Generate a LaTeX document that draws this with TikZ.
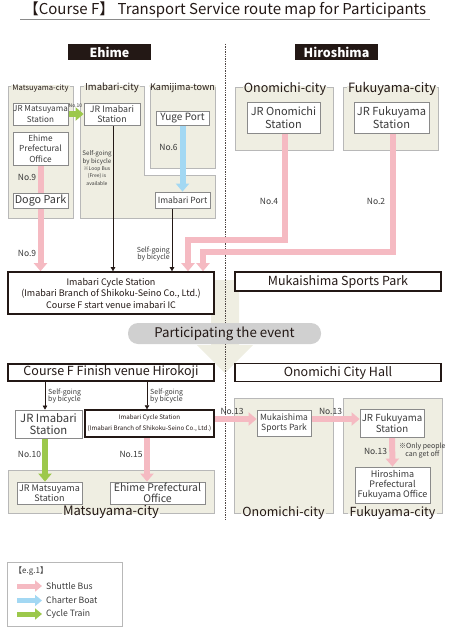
\documentclass[tikz,border=0pt]{standalone}
\usepackage{fontspec}
\setmainfont{Noto Sans CJK JP}
\usetikzlibrary{arrows.meta,calc}
\definecolor{ink}{HTML}{231815}
\definecolor{txt}{HTML}{3A3A3A}
\definecolor{beige}{HTML}{EFEEE2}
\definecolor{regline}{HTML}{B8B8B8}
\definecolor{boxline}{HTML}{8A8A8A}
\definecolor{pinkc}{HTML}{F5BAC2}
\definecolor{bluec}{HTML}{A3D8F3}
\definecolor{greenc}{HTML}{9CC84B}
\definecolor{pillc}{HTML}{D0D0D0}
\pgfdeclarelayer{bg}\pgfdeclarelayer{gap}\pgfdeclarelayer{arr}
\pgfsetlayers{bg,gap,arr,main}
\newcommand\fsz[2]{\fontsize{#1}{#2}\selectfont}
\tikzset{
 fs/.style 2 args={font=\fontsize{#1}{#2}\selectfont},
 box/.style={draw=boxline, line width=0.8pt, fill=white, text=txt, align=center, inner sep=0pt},
 hbox/.style={draw=ink, line width=1.6pt, fill=white, text=ink, align=center, inner sep=0pt},
 region/.style={fill=beige, draw=regline, line width=1pt},
 reglab/.style={text=ink, inner sep=1pt},
 lab/.style={text=txt, inner sep=0pt, align=center},
 fat/.style={line width=6pt, -{Triangle[width=13pt,length=8pt]}},
 pinkarr/.style={fat, draw=pinkc},
 bluearr/.style={fat, draw=bluec},
 greenarr/.style={fat, draw=greenc},
 thinarr/.style={draw=ink, line width=0.6pt, -{Triangle[width=4.5pt,length=4pt]}},
 legarr/.style={line width=5pt, -{Triangle[width=11pt,length=7pt]}},
 headbox/.style={fill=ink, text=white, minimum width=83pt, minimum height=16pt, inner sep=0pt, font=\fontsize{12.5}{14}\selectfont\bfseries},
 dline/.style={draw=ink!80, line width=0.7pt, dash pattern=on 1.4pt off 1pt},
}
\begin{document}
\begin{tikzpicture}[x=1pt,y=-1pt]
\useasboundingbox (0,0) rectangle (450,634);
% ---------- title ----------
\node[fs={15}{18}, text=ink, inner sep=0pt] (title) at (225,10) {【Course F】 Transport Service route map for Participants};
\draw[boxline, line width=0.8pt] (20,19.5) -- (430,19.5);
\node[headbox] (ehime) at (109.5,52) {Ehime};
\node[headbox] (hiro) at (336.5,52) {Hiroshima};
% ---------- regions ----------
\begin{pgfonlayer}{bg}
\draw[region] (8,86) rectangle (73,218);
\draw[region] (80,86) -- (144,86) -- (144,175) -- (215,175) -- (215,218) -- (80,218) -- cycle;
\draw[region] (150,86) rectangle (215,168);
\draw[region] (235,87) rectangle (333,150);
\draw[region] (343,87) rectangle (438,150);
\draw[region] (8,470) rectangle (214,513);
\draw[region] (234,398) rectangle (333,513);
\draw[region] (343,398) rectangle (442,513);
\fill[beige] (211,280) -- (239,280) -- (239,345) -- (253,345) -- (225,373) -- (197,345) -- (211,345) -- cycle;
\draw[dline] (225,44) -- (225,520);
\end{pgfonlayer}
\node[reglab, fs={7.6}{10}] (lmat) at (40.5,88) {Matsuyama-city};
\node[reglab, fs={9.5}{11}] (limb) at (112,88) {Imabari-city};
\node[reglab, fs={9.1}{11}] (lkam) at (182.5,88) {Kamijima-town};
\node[reglab, fs={12.5}{15}] (lono) at (285,89) {Onomichi-city};
\node[reglab, fs={12.8}{15}] (lfuk) at (392,89) {Fukuyama-city};
\node[reglab, fs={13}{15}] (lmat2) at (111,512) {Matsuyama-city};
\node[reglab, fs={12.5}{15}] (lono2) at (283.5,513) {Onomichi-city};
\node[reglab, fs={12.5}{15}] (lfuk2) at (392.5,513) {Fukuyama-city};
\begin{pgfonlayer}{gap}
\foreach \n/\ya/\yb in {lmat/84.6/87.4,limb/84.6/87.4,lkam/84.6/87.4,lono/85.6/88.4,lfuk/85.6/88.4,lmat2/511.6/514.4,lono2/511.6/514.4,lfuk2/511.6/514.4}
  \fill[beige] (\n.west |- 0,\ya) rectangle (\n.east |- 0,\yb);
\end{pgfonlayer}
% ---------- upper boxes ----------
\node[box, fs={8.1}{10.5}, minimum width=55pt, minimum height=22pt] (jrm) at (40.5,114) {JR Matsuyama\\Station};
\node[box, fs={8.3}{10.5}, minimum width=55pt, minimum height=33pt] (epo) at (40.5,148.5) {Ehime\\Prefectural\\Office};
\node[box, fs={10.8}{13}, minimum width=55pt, minimum height=15pt] (dogo) at (40.5,200.5) {Dogo Park};
\node[box, fs={8.8}{10.5}, minimum width=56pt, minimum height=22pt] (jri) at (112,114) {JR Imabari\\Station};
\node[box, fs={10}{12}, minimum width=53pt, minimum height=14pt] (yuge) at (182.5,118) {Yuge Port};
\node[box, fs={8.5}{10}, minimum width=55pt, minimum height=16pt] (iport) at (182.5,200) {Imabari Port};
\node[box, fs={11}{12.5}, minimum width=73pt, minimum height=31pt] (jro) at (283.5,117.5) {JR Onomichi\\Station};
\node[box, fs={11.1}{12.5}, minimum width=75pt, minimum height=31pt] (jrf) at (391.5,117.5) {JR Fukuyama\\Station};
\node[hbox, fs={9}{11.5}, minimum width=206pt, minimum height=42pt] (cyc) at (111,293) {Imabari Cycle Station\\(Imabari Branch of Shikoku-Seino Co., Ltd.)\\Course F start venue imabari IC};
\node[hbox, fs={12.5}{14}, minimum width=206pt, minimum height=19pt] (muk) at (338,281.5) {Mukaishima Sports Park};
\node[fill=pillc, rounded corners=10pt, text=ink, fs={13.3}{15}, minimum width=193pt, minimum height=21pt, inner sep=0pt] (pill) at (224.5,333.5) {Participating the event};
% ---------- lower boxes ----------
\node[hbox, fs={12.5}{14}, minimum width=206pt, minimum height=17pt] (fin) at (111,372.5) {Course F Finish venue Hirokoji};
\node[hbox, fs={12.5}{14}, minimum width=206pt, minimum height=18pt] (och) at (338,372.5) {Onomichi City Hall};
\node[box, fs={11.3}{11.6}, minimum width=67pt, minimum height=28pt] (jri2) at (48.5,424) {JR Imabari\\Station};
\node[hbox, line width=1.4pt, fs={6.2}{11}, minimum width=129pt, minimum height=27pt] (cyc2) at (149.5,423.5) {Imabari Cycle Station\\(Imabari Branch of Shikoku-Seino Co., Ltd.)};
\node[box, fs={9}{10.2}, minimum width=65pt, minimum height=22pt] (jrm2) at (49.5,493) {JR Matsuyama\\Station};
\node[box, fs={10.5}{10.7}, minimum width=95pt, minimum height=22pt] (epo2) at (157.5,493) {Ehime Prefectural\\Office};
\node[box, fs={8.5}{10.2}, minimum width=54pt, minimum height=26pt] (muk2) at (284,423) {Mukaishima\\Sports Park};
\node[box, fs={9.7}{11.3}, minimum width=64pt, minimum height=28pt] (jrf2) at (392,423) {JR Fukuyama\\Station};
\node[box, fs={9}{10}, minimum width=75pt, minimum height=36pt] (hpfo) at (392.5,485) {Hiroshima\\Prefectural\\Fukuyama Office};
% ---------- labels ----------
\node[lab, fs={5}{6}] (n10a) at (75.5,105.5) {No.10};
\node[lab, fs={8.5}{10}] (n9a) at (27,177) {No.9};
\node[lab, fs={8.5}{10}] (n9b) at (27,253) {No.9};
\node[lab, fs={8.5}{10}] (n6) at (168.5,147) {No.6};
\node[lab, fs={8.5}{10}] (n4) at (269,201) {No.4};
\node[lab, fs={8.5}{10}] (n2) at (376,201) {No.2};
\node[lab, fs={7}{7.5}, align=right, anchor=east] (sgb1) at (170,254) {Self-going\\by bicycle};
\node[lab, font=\fsz{6.2}{7.3}] (note1) at (97,168) {\fsz{6.2}{7.3}Self-going\\\fsz{6.2}{7.3}by bicycle\\\fsz{5}{7.2}※Loop Bus\\\fsz{5}{7.2}(Free) is\\\fsz{5}{7.2}available};
\node[lab, fs={7}{7.5}, align=left, anchor=west] (sgb2) at (48,396) {Self-going\\by bicycle};
\node[lab, fs={7}{7.5}, align=left, anchor=west] (sgb3) at (150,396) {Self-going\\by bicycle};
\node[lab, fs={8.5}{10}] (n10b) at (29.5,454) {No.10};
\node[lab, fs={8.5}{10}] (n15) at (131,454) {No.15};
\node[lab, fs={8.5}{10}] (n13a) at (232,411) {No.13};
\node[lab, fs={8.5}{10}] (n13b) at (330.5,411) {No.13};
\node[lab, fs={8.5}{10}] (n13c) at (375.5,451) {No.13};
\node[lab, fs={7}{7.5}, anchor=west] (only) at (399,450.5) {※Only people\\can get off};
% ---------- coordinates ----------
\coordinate (o1) at (188,240);
\coordinate (o2) at (203,252);
\coordinate (c113) at (113,0);
\coordinate (c172) at (172,0);
\coordinate (c45) at (45,0);
\coordinate (c147) at (147,0);
\coordinate (r419) at (0,419);
% ---------- connectors ----------
\begin{pgfonlayer}{arr}
\draw[greenarr] (jrm.east) -- (jri.west);
\draw[pinkarr] (epo.south) -- (epo.south |- cyc.north);
\draw[bluearr] (yuge.south) -- (iport.north);
\draw[pinkarr] ([xshift=1pt]jro.south) |- (o1) -- (o1 |- cyc.north);
\draw[pinkarr] ([xshift=1pt]jrf.south) |- (o2) -- (o2 |- cyc.north);
\draw[thinarr] (jri.south -| c113) -- (cyc.north -| c113);
\draw[thinarr] (iport.south -| c172) -- (cyc.north -| c172);
\draw[thinarr] (fin.south -| c45) -- (jri2.north -| c45);
\draw[thinarr] (fin.south -| c147) -- (cyc2.north -| c147);
\draw[greenarr] (jri2.south -| c45) -- (jrm2.north -| c45);
\draw[pinkarr] (cyc2.south -| c147) -- (epo2.north -| c147);
\draw[pinkarr] (cyc2.east |- r419) -- (muk2.west |- r419);
\draw[pinkarr] (muk2.east |- r419) -- (jrf2.west |- r419);
\draw[pinkarr] (jrf2.south) -- (hpfo.north);
\end{pgfonlayer}
% ---------- legend ----------
\node[draw=regline, line width=1pt, minimum width=115pt, minimum height=64pt, inner sep=0pt] (legend) at (64.5,594) {};
\node[lab, fs={8}{9}, anchor=west] (legt) at (14,571) {【e.g.1】};
\coordinate (la1) at (17,586);
\coordinate (lb1) at (42,586);
\coordinate (la2) at (17,600.5);
\coordinate (lb2) at (42,600.5);
\coordinate (la3) at (17,614);
\coordinate (lb3) at (42,614);
\draw[legarr, draw=pinkc] (la1) -- (lb1);
\draw[legarr, draw=bluec] (la2) -- (lb2);
\draw[legarr, draw=greenc] (la3) -- (lb3);
\node[lab, fs={8.7}{10}, anchor=west] (leg1) at (46,586) {Shuttle Bus};
\node[lab, fs={8.7}{10}, anchor=west] (leg2) at (46,600.5) {Charter Boat};
\node[lab, fs={8.7}{10}, anchor=west] (leg3) at (46,614) {Cycle Train};
\end{tikzpicture}
\end{document}
